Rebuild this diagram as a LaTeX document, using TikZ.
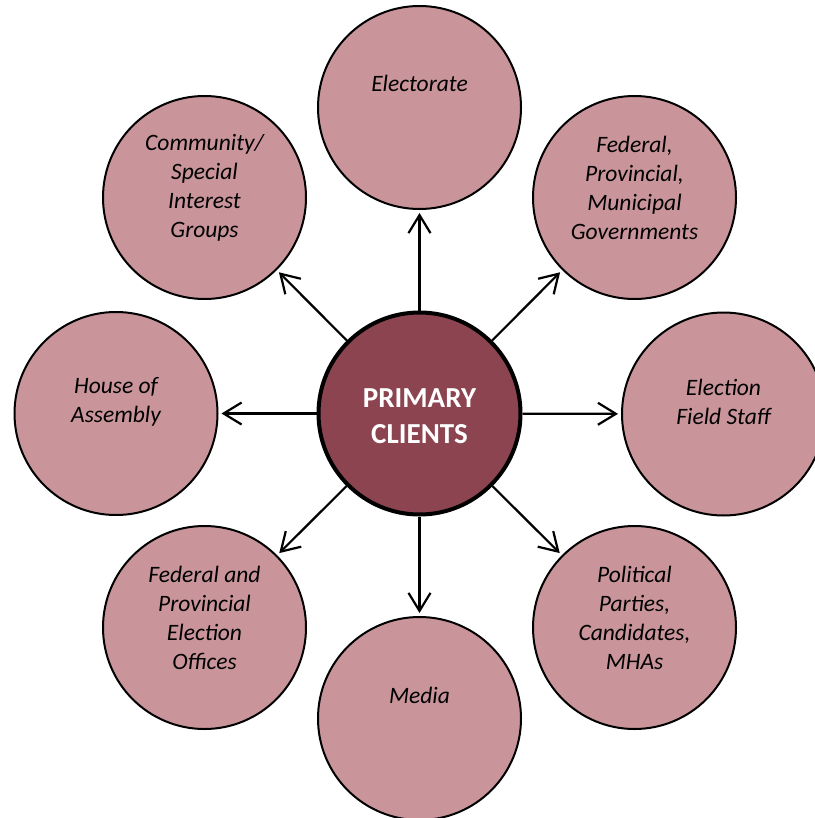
\documentclass[tikz,border=0pt]{standalone}
\usepackage{fontspec}
\setmainfont{Carlito}
\usetikzlibrary{arrows.meta}
\definecolor{outerfill}{HTML}{C9959B}
\definecolor{innerfill}{HTML}{8B4450}
\tikzset{
  outer/.style={circle,draw=black,line width=2pt,fill=outerfill,minimum size=203pt,inner sep=0pt},
  inner/.style={circle,draw=black,line width=4pt,fill=innerfill,minimum size=202pt,inner sep=0pt},
  lbl/.style={align=center,font=\fontsize{23.5}{29}\selectfont\itshape,inner sep=0pt},
  clbl/.style={align=center,font=\fontsize{29}{36}\selectfont\bfseries,text=white,inner sep=0pt},
  arr/.style={line width=2.2pt,-{Straight Barb[length=18pt,width=22pt,line width=2.2pt]},shorten >=3pt}
}
\begin{document}
\begin{tikzpicture}[x=1pt,y=-1pt]
\useasboundingbox (0,0) rectangle (814,818);
\node[inner] (c) at (419.5,413.5) {};
\node[outer] (n1) at (419.5,107.5) {};
\node[outer] (n2) at (634.5,197.5) {};
\node[outer] (n3) at (723.5,414) {};
\node[outer] (n4) at (634.5,627.5) {};
\node[outer] (n5) at (419.5,718.5) {};
\node[outer] (n6) at (204.5,627.5) {};
\node[outer] (n7) at (116,413.5) {};
\node[outer] (n8) at (204.5,197.5) {};
\node[clbl] (tc) at (419.5,416) {PRIMARY\\CLIENTS};
\node[lbl] (t1) at (419.5,83) {Electorate};
\node[lbl] (t2) at (634.5,188) {Federal,\\Provincial,\\Municipal\\Governments};
\node[lbl] (t3) at (723.5,402) {Election\\Field Staff};
\node[lbl] (t4) at (634.5,618) {Political\\Parties,\\Candidates,\\MHAs};
\node[lbl] (t5) at (419.5,695) {Media};
\node[lbl] (t6) at (204.5,618) {Federal and\\Provincial\\Election\\Offices};
\node[lbl] (t7) at (116,402) {House of\\Assembly};
\node[lbl] (t8) at (204.5,188) {Community/\\Special\\Interest\\Groups};
\foreach \n in {n1,n2,n3,n4,n5,n6,n7,n8} \draw[arr] (c) -- (\n);
\end{tikzpicture}
\end{document}
